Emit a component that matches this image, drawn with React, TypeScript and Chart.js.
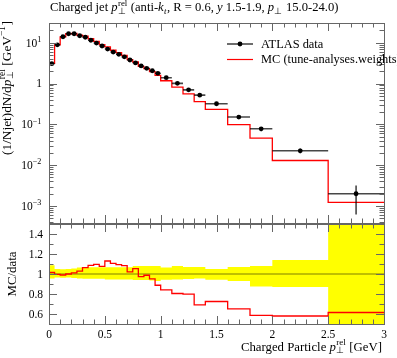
import React, { useEffect, useRef } from 'react';
import { Chart, registerables } from 'chart.js';

Chart.register(...registerables);

// ---------------- data ----------------
const binEdges = [0, 0.05, 0.1, 0.15, 0.2, 0.25, 0.3, 0.35, 0.4, 0.45, 0.5, 0.55, 0.6, 0.65, 0.7, 0.75, 0.8, 0.85, 0.9, 0.95, 1.0, 1.1, 1.2, 1.3, 1.4, 1.6, 1.8, 2.0, 2.5, 3.0];
const dataValues = [3.06, 8.9, 14.0, 16.6, 16.6, 14.8, 13.6, 11.5, 9.8, 8.3, 7.0, 5.9, 5.2, 4.5, 3.77, 3.2, 2.7, 2.36, 2.06, 1.78, 1.39, 1.01, 0.70, 0.52, 0.32, 0.151, 0.078, 0.0225, 0.002];
const dataRelErrUp = [0.087, 0.05, 0.048, 0.05, 0.055, 0.064, 0.067, 0.067, 0.067, 0.067, 0.067, 0.067, 0.067, 0.067, 0.067, 0.08, 0.08, 0.08, 0.08, 0.08, 0.064, 0.08, 0.07, 0.07, 0.05, 0.07, 0.08, 0.14, 0.6];
const dataRelErrDown = [0.044, 0.034, 0.037, 0.034, 0.04, 0.044, 0.047, 0.047, 0.047, 0.047, 0.054, 0.054, 0.054, 0.054, 0.054, 0.06, 0.06, 0.06, 0.065, 0.07, 0.057, 0.054, 0.05, 0.045, 0.057, 0.07, 0.124, 0.13, 0.69];
const mcValues = [3.11, 8.86, 13.86, 16.6, 16.8, 15.24, 14.47, 12.5, 10.75, 8.94, 7.91, 6.53, 5.69, 4.88, 3.85, 3.37, 2.63, 2.33, 1.96, 1.58, 1.17, 0.813, 0.559, 0.359, 0.232, 0.0982, 0.0458, 0.01305, 0.00123];

const xTickValues = [0, 0.5, 1, 1.5, 2, 2.5, 3];
const xTickLabels = ['0', '0.5', '1', '1.5', '2', '2.5', '3'];
const yTickExponents = [1, 0, -1, -2, -3];
const ratioTickValues = [0.6, 0.8, 1, 1.2, 1.4];
const ratioTickLabels = ['0.6', '0.8', '1', '1.2', '1.4'];
const legendLabels = ['ATLAS data', 'MC (tune-analyses.weights)'];

const X_MIN = 0, X_MAX = 3;
const Y_MIN = 3.84e-4, Y_MAX = 30.4;
const R_MIN = 0.5, R_MAX = 1.5;

// ---------------- text helpers ----------------
const FONT = "'Liberation Serif', 'Times New Roman', serif";
const GRAY = '#666';

interface Seg { t: string; i?: boolean; sup?: string; sub?: string; subI?: boolean; }

function fnt(size: number, italic?: boolean) {
  return `${italic ? 'italic ' : ''}${size}px ${FONT}`;
}
function segWidth(ctx: CanvasRenderingContext2D, s: Seg, size: number) {
  ctx.font = fnt(size, s.i);
  const w = ctx.measureText(s.t).width;
  let sw = 0;
  if (s.sup) { ctx.font = fnt(size * 0.7); sw = Math.max(sw, ctx.measureText(s.sup).width); }
  if (s.sub) { ctx.font = fnt(size * 0.7, s.subI); sw = Math.max(sw, ctx.measureText(s.sub).width); }
  return w + sw + (sw ? size * 0.06 : 0);
}
function drawRich(ctx: CanvasRenderingContext2D, segs: Seg[], x: number, y: number, size: number, align: 'left' | 'right' | 'center' = 'left') {
  const total = segs.reduce((a, s) => a + segWidth(ctx, s, size), 0);
  let cx = align === 'left' ? x : align === 'right' ? x - total : x - total / 2;
  ctx.textAlign = 'left';
  ctx.textBaseline = 'alphabetic';
  for (const s of segs) {
    ctx.font = fnt(size, s.i);
    ctx.fillText(s.t, cx, y);
    const w = ctx.measureText(s.t).width;
    let sw = 0;
    const sx = cx + w + (s.i ? size * 0.03 : 0);
    if (s.sup) { ctx.font = fnt(size * 0.7); ctx.fillText(s.sup, sx, y - size * 0.4); sw = Math.max(sw, ctx.measureText(s.sup).width); }
    if (s.sub) { ctx.font = fnt(size * 0.7, s.subI); ctx.fillText(s.sub, sx, y + size * 0.22); sw = Math.max(sw, ctx.measureText(s.sub).width); }
    cx += w + sw + (sw ? size * 0.06 : 0);
  }
}

const titleSegs: Seg[] = [
  { t: 'Charged jet ' }, { t: 'p', i: true, sup: 'rel', sub: '⊥' }, { t: ' (anti-' },
  { t: 'k', i: true, sub: 't', subI: true }, { t: ', R = 0.6, ' }, { t: 'y', i: true },
  { t: ' 1.5-1.9, ' }, { t: 'p', i: true, sub: '⊥' }, { t: ' 15.0-24.0)' },
];
const yLabelSegs: Seg[] = [
  { t: '(1/Njet)dN/d' }, { t: 'p', i: true, sup: 'rel', sub: '⊥' }, { t: ' [GeV' }, { t: '', sup: '−1' }, { t: ']' },
];
const xLabelSegs: Seg[] = [
  { t: 'Charged Particle ' }, { t: 'p', i: true, sup: 'rel', sub: '⊥' }, { t: ' [GeV]' },
];

const MAJ = 8, MIN = 4.5;

function drawXTicks(ctx: CanvasRenderingContext2D, chart: any) {
  const ca = chart.chartArea; const xs = chart.scales.x;
  ctx.strokeStyle = GRAY; ctx.lineWidth = 1;
  ctx.beginPath();
  for (let k = 1; k < 30; k++) {
    const v = k / 10;
    const len = k % 5 === 0 ? MAJ : MIN;
    const px = Math.round(xs.getPixelForValue(v)) + 0.5;
    ctx.moveTo(px, ca.bottom); ctx.lineTo(px, ca.bottom - len);
    ctx.moveTo(px, ca.top); ctx.lineTo(px, ca.top + len);
  }
  ctx.stroke();
}
function drawFrame(ctx: CanvasRenderingContext2D, chart: any) {
  const ca = chart.chartArea;
  ctx.strokeStyle = GRAY; ctx.lineWidth = 1;
  ctx.strokeRect(Math.round(ca.left) + 0.5, Math.round(ca.top) + 0.5, Math.round(ca.right - ca.left), Math.round(ca.bottom - ca.top));
}

const mainPlugin = {
  id: 'mainDecor',
  afterDatasetDraw(chart: any, args: any) {
    if (args.index !== 1) return;
    const ctx = chart.ctx as CanvasRenderingContext2D;
    const xs = chart.scales.x, ys = chart.scales.y;
    ctx.save();
    ctx.strokeStyle = 'rgba(0,0,0,0.72)';
    ctx.lineWidth = 1.6;
    ctx.beginPath();
    dataValues.forEach((v, i) => {
      const xl = xs.getPixelForValue(binEdges[i]);
      const xr = xs.getPixelForValue(binEdges[i + 1]);
      const xc = xs.getPixelForValue((binEdges[i] + binEdges[i + 1]) / 2);
      const y = ys.getPixelForValue(v);
      ctx.moveTo(xl, y); ctx.lineTo(xr, y);
      ctx.moveTo(xc, ys.getPixelForValue(v * (1 + dataRelErrUp[i])));
      ctx.lineTo(xc, ys.getPixelForValue(v * (1 - dataRelErrDown[i])));
    });
    ctx.stroke();
    ctx.restore();
  },
  afterDraw(chart: any) {
    const ctx = chart.ctx as CanvasRenderingContext2D;
    const ca = chart.chartArea; const ys = chart.scales.y;
    ctx.save();
    drawFrame(ctx, chart);
    drawXTicks(ctx, chart);
    ctx.beginPath();
    for (let e = -4; e <= 1; e++) {
      for (let m = 1; m <= 9; m++) {
        const v = m * Math.pow(10, e);
        if (v < Y_MIN || v > Y_MAX) continue;
        const len = m === 1 ? MAJ : MIN;
        const py = Math.round(ys.getPixelForValue(v)) + 0.5;
        ctx.moveTo(ca.left, py); ctx.lineTo(ca.left + len, py);
        ctx.moveTo(ca.right, py); ctx.lineTo(ca.right - len, py);
      }
    }
    ctx.stroke();
    ctx.fillStyle = '#000';
    yTickExponents.forEach((e) => {
      const py = ys.getPixelForValue(Math.pow(10, e));
      const segs: Seg[] = e === 0 ? [{ t: '1' }] : [{ t: '10', sup: e < 0 ? '−' + (-e) : String(e) }];
      drawRich(ctx, segs, 42, py + 3.8, 11.5, 'right');
    });
    drawRich(ctx, titleSegs, 50, 11, 12.6, 'left');
    ctx.save();
    ctx.translate(10.5, 21);
    ctx.rotate(-Math.PI / 2);
    drawRich(ctx, yLabelSegs, 0, 0, 13.3, 'right');
    ctx.restore();
    // legend
    ctx.strokeStyle = 'rgba(0,0,0,0.72)'; ctx.lineWidth = 1.6;
    ctx.beginPath(); ctx.moveTo(227, 44); ctx.lineTo(253, 44); ctx.stroke();
    ctx.fillStyle = '#000';
    ctx.beginPath(); ctx.arc(240, 44, 2.4, 0, Math.PI * 2); ctx.fill();
    ctx.strokeStyle = '#ff0000'; ctx.lineWidth = 1.2;
    ctx.beginPath(); ctx.moveTo(227, 59.5); ctx.lineTo(253, 59.5); ctx.stroke();
    ctx.fillStyle = '#000';
    drawRich(ctx, [{ t: legendLabels[0] }], 261, 47.5, 12.4, 'left');
    drawRich(ctx, [{ t: legendLabels[1] }], 261, 62.5, 12.4, 'left');
    ctx.restore();
  },
};

const ratioPlugin = {
  id: 'ratioDecor',
  afterDraw(chart: any) {
    const ctx = chart.ctx as CanvasRenderingContext2D;
    const ca = chart.chartArea; const xs = chart.scales.x; const ys = chart.scales.y;
    ctx.save();
    drawFrame(ctx, chart);
    drawXTicks(ctx, chart);
    ctx.beginPath();
    for (let k = 5; k <= 15; k++) {
      const v = k / 10;
      if (v <= R_MIN || v >= R_MAX) continue;
      const len = k % 2 === 0 ? MAJ : MIN;
      const py = Math.round(ys.getPixelForValue(v)) + 0.5;
      ctx.moveTo(ca.left, py); ctx.lineTo(ca.left + len, py);
      ctx.moveTo(ca.right, py); ctx.lineTo(ca.right - len, py);
    }
    ctx.stroke();
    ctx.fillStyle = '#000';
    ratioTickValues.forEach((v, i) => {
      drawRich(ctx, [{ t: ratioTickLabels[i] }], 43, ys.getPixelForValue(v) + 3.8, 11.5, 'right');
    });
    xTickValues.forEach((v, i) => {
      drawRich(ctx, [{ t: xTickLabels[i] }], xs.getPixelForValue(v), 115, 11.5, 'center');
    });
    drawRich(ctx, xLabelSegs, 382, 127.5, 12.8, 'right');
    ctx.save();
    ctx.translate(16, (ca.top + ca.bottom) / 2);
    ctx.rotate(-Math.PI / 2);
    drawRich(ctx, [{ t: 'MC/data' }], 0, 0, 12.8, 'center');
    ctx.restore();
    ctx.restore();
  },
};

export default function App() {
  const mainRef = useRef<HTMLCanvasElement>(null);
  const ratioRef = useRef<HTMLCanvasElement>(null);

  useEffect(() => {
    document.body.style.margin = '0';
    const n = dataValues.length;
    const centers = dataValues.map((_, i) => (binEdges[i] + binEdges[i + 1]) / 2);
    const stepPts = (vals: number[]) => binEdges.map((e, i) => ({ x: e, y: vals[Math.min(i, n - 1)] }));
    const ratioVals = mcValues.map((m, i) => m / dataValues[i]);
    const bandUp = dataRelErrUp.map((u) => 1 + u);
    const bandDown = dataRelErrDown.map((d) => 1 - d);

    const common: any = {
      responsive: false,
      animation: false,
      devicePixelRatio: 1,
      events: [],
      plugins: { legend: { display: false }, tooltip: { enabled: false }, title: { display: false } },
    };

    const c1 = new Chart(mainRef.current!, {
      type: 'scatter',
      data: {
        datasets: [
          { label: legendLabels[0], data: centers.map((x, i) => ({ x, y: dataValues[i] })), pointRadius: 2.4, pointBackgroundColor: '#000', pointBorderWidth: 0, showLine: false } as any,
          { type: 'line', label: legendLabels[1], data: stepPts(mcValues), stepped: 'before', borderColor: '#ff0000', borderWidth: 1.3, pointRadius: 0, fill: false } as any,
        ],
      },
      options: {
        ...common,
        layout: { padding: { left: 49, right: 13, top: 23, bottom: 1 }, autoPadding: false },
        scales: {
          x: { type: 'linear', min: X_MIN, max: X_MAX, display: false },
          y: { type: 'logarithmic', min: Y_MIN, max: Y_MAX, display: false },
        },
      },
      plugins: [mainPlugin],
    });

    const c2 = new Chart(ratioRef.current!, {
      type: 'line',
      data: {
        datasets: [
          { label: 'MC/data', data: stepPts(ratioVals), stepped: 'before', borderColor: '#ff0000', borderWidth: 1.3, pointRadius: 0, fill: false } as any,
          { label: 'ref', data: [{ x: X_MIN, y: 1 }, { x: X_MAX, y: 1 }], borderColor: 'rgba(0,0,0,0.5)', borderWidth: 1, pointRadius: 0, fill: false } as any,
          { label: 'band up', data: stepPts(bandUp), stepped: 'before', borderColor: 'rgba(0,0,0,0)', borderWidth: 1, pointRadius: 0, fill: '+1', backgroundColor: '#ffff00' } as any,
          { label: 'band down', data: stepPts(bandDown), stepped: 'before', borderColor: 'rgba(0,0,0,0)', borderWidth: 1, pointRadius: 0, fill: false } as any,
        ],
      },
      options: {
        ...common,
        layout: { padding: { left: 49, right: 13, top: 1, bottom: 34 }, autoPadding: false },
        scales: {
          x: { type: 'linear', min: X_MIN, max: X_MAX, display: false },
          y: { type: 'linear', min: R_MIN, max: R_MAX, display: false },
        },
      },
      plugins: [ratioPlugin],
    });

    return () => { c1.destroy(); c2.destroy(); };
  }, []);

  return (
    <div style={{ position: 'relative', width: 397, height: 358, background: '#fff', overflow: 'hidden' }}>
      <canvas ref={mainRef} width={397} height={224} style={{ position: 'absolute', left: 0, top: 0, width: 397, height: 224 }} />
      <canvas ref={ratioRef} width={397} height={135} style={{ position: 'absolute', left: 0, top: 223, width: 397, height: 135 }} />
    </div>
  );
}
